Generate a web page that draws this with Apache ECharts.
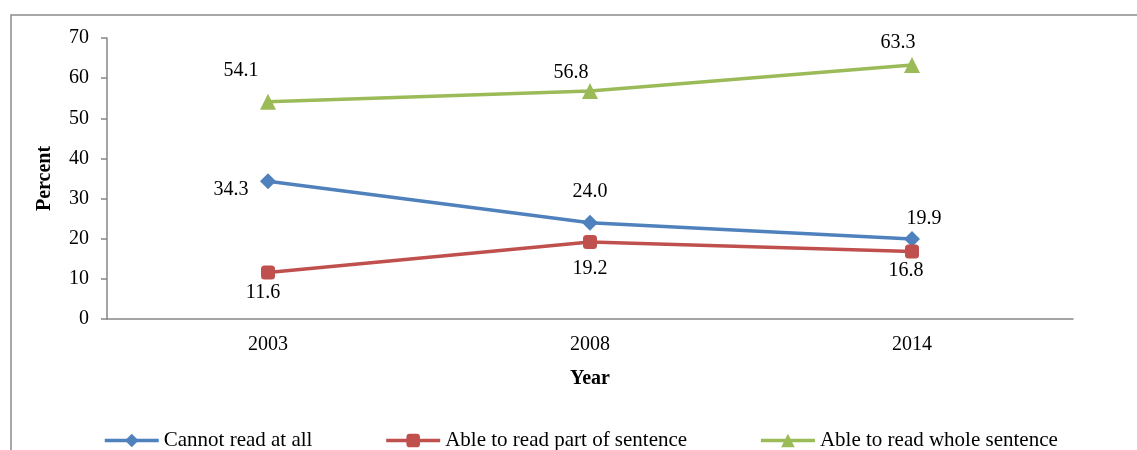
<!DOCTYPE html>
<html>
<head>
<meta charset="utf-8">
<script src="https://cdn.jsdelivr.net/npm/echarts@6/dist/echarts.min.js"></script>
<style>
  html, body { margin: 0; padding: 0; background: #fff; }
  #chart { width: 1137px; height: 450px; }
</style>
</head>
<body>
<div id="chart"></div>
<script>
// Survey years
const years = ['2003', '2008', '2014'];
// Share of respondents (percent) by reading ability
const cannotRead = [34.3, 24.0, 19.9];
const readPart = [11.6, 19.2, 16.8];
const readWhole = [54.1, 56.8, 63.3];
const seriesNames = ['Cannot read at all', 'Able to read part of sentence', 'Able to read whole sentence'];

// Label placement (offset of each value label from its point, px)
const offsetsCannot = [[-37, 8], [0, -31], [12, -20]];
const offsetsPart = [[-5, 20], [0, 27], [-6, 19]];
const offsetsWhole = [[-27, -31], [-19, -18], [-14, -22]];

const FONT = '"Liberation Serif", "Times New Roman", serif';
const AXIS_GREY = '#868686';

function buildData(values, offsets) {
  return values.map((v, i) => ({
    value: v,
    label: { offset: offsets[i] }
  }));
}

function lineSeries(name, values, offsets, color, symbol, size) {
  return {
    name: name,
    type: 'line',
    data: buildData(values, offsets),
    symbol: symbol,
    symbolSize: size,
    lineStyle: { color: color, width: 3.5 },
    itemStyle: { color: color },
    label: {
      show: true,
      position: 'inside',
      formatter: p => p.value.toFixed(1),
      color: '#000',
      fontFamily: FONT,
      fontSize: 20
    },
    emphasis: { disabled: true },
    animation: false
  };
}

const chart = echarts.init(document.getElementById('chart'), null, { renderer: 'canvas' });
chart.setOption({
  backgroundColor: '#fff',
  textStyle: { fontFamily: FONT },
  graphic: [{
    type: 'rect',
    shape: { x: 11, y: 15, width: 1200, height: 500 },
    style: { fill: 'none', stroke: '#8c8c8c', lineWidth: 1.5 },
    silent: true
  }],
  grid: { left: 107, right: 64, top: 38, bottom: 131, containLabel: false },
  legend: {
    left: 103,
    top: 430,
    padding: 0,
    itemWidth: 54,
    itemHeight: 17,
    itemGap: 72,
    lineStyle: { width: 3.5 },
    textStyle: { fontFamily: FONT, fontSize: 21, color: '#000' },
    data: seriesNames
  },
  xAxis: {
    type: 'category',
    data: years,
    boundaryGap: true,
    name: 'Year',
    nameLocation: 'middle',
    nameGap: 50,
    nameTextStyle: { fontFamily: FONT, fontSize: 20, fontWeight: 'bold', color: '#000' },
    axisLine: { lineStyle: { color: AXIS_GREY, width: 1.5 } },
    axisTick: { show: false },
    axisLabel: { fontFamily: FONT, fontSize: 20, color: '#000', margin: 16 },
    splitLine: { show: false }
  },
  yAxis: {
    type: 'value',
    min: 0,
    max: 70,
    interval: 10,
    name: 'Percent',
    nameLocation: 'middle',
    nameGap: 52,
    nameTextStyle: { fontFamily: FONT, fontSize: 20, fontWeight: 'bold', color: '#000' },
    axisLine: { show: true, lineStyle: { color: AXIS_GREY, width: 1.5 } },
    axisTick: { show: true, length: 6, lineStyle: { color: AXIS_GREY, width: 1.5 } },
    axisLabel: { fontFamily: FONT, fontSize: 20, color: '#000', margin: 18 },
    splitLine: { show: false }
  },
  series: [
    lineSeries(seriesNames[0], cannotRead, offsetsCannot, '#4F81BD', 'diamond', 16),
    lineSeries(seriesNames[1], readPart, offsetsPart, '#C0504D', 'roundRect', 14),
    lineSeries(seriesNames[2], readWhole, offsetsWhole, '#9BBB59', 'triangle', 16)
  ]
});
</script>
</body>
</html>
